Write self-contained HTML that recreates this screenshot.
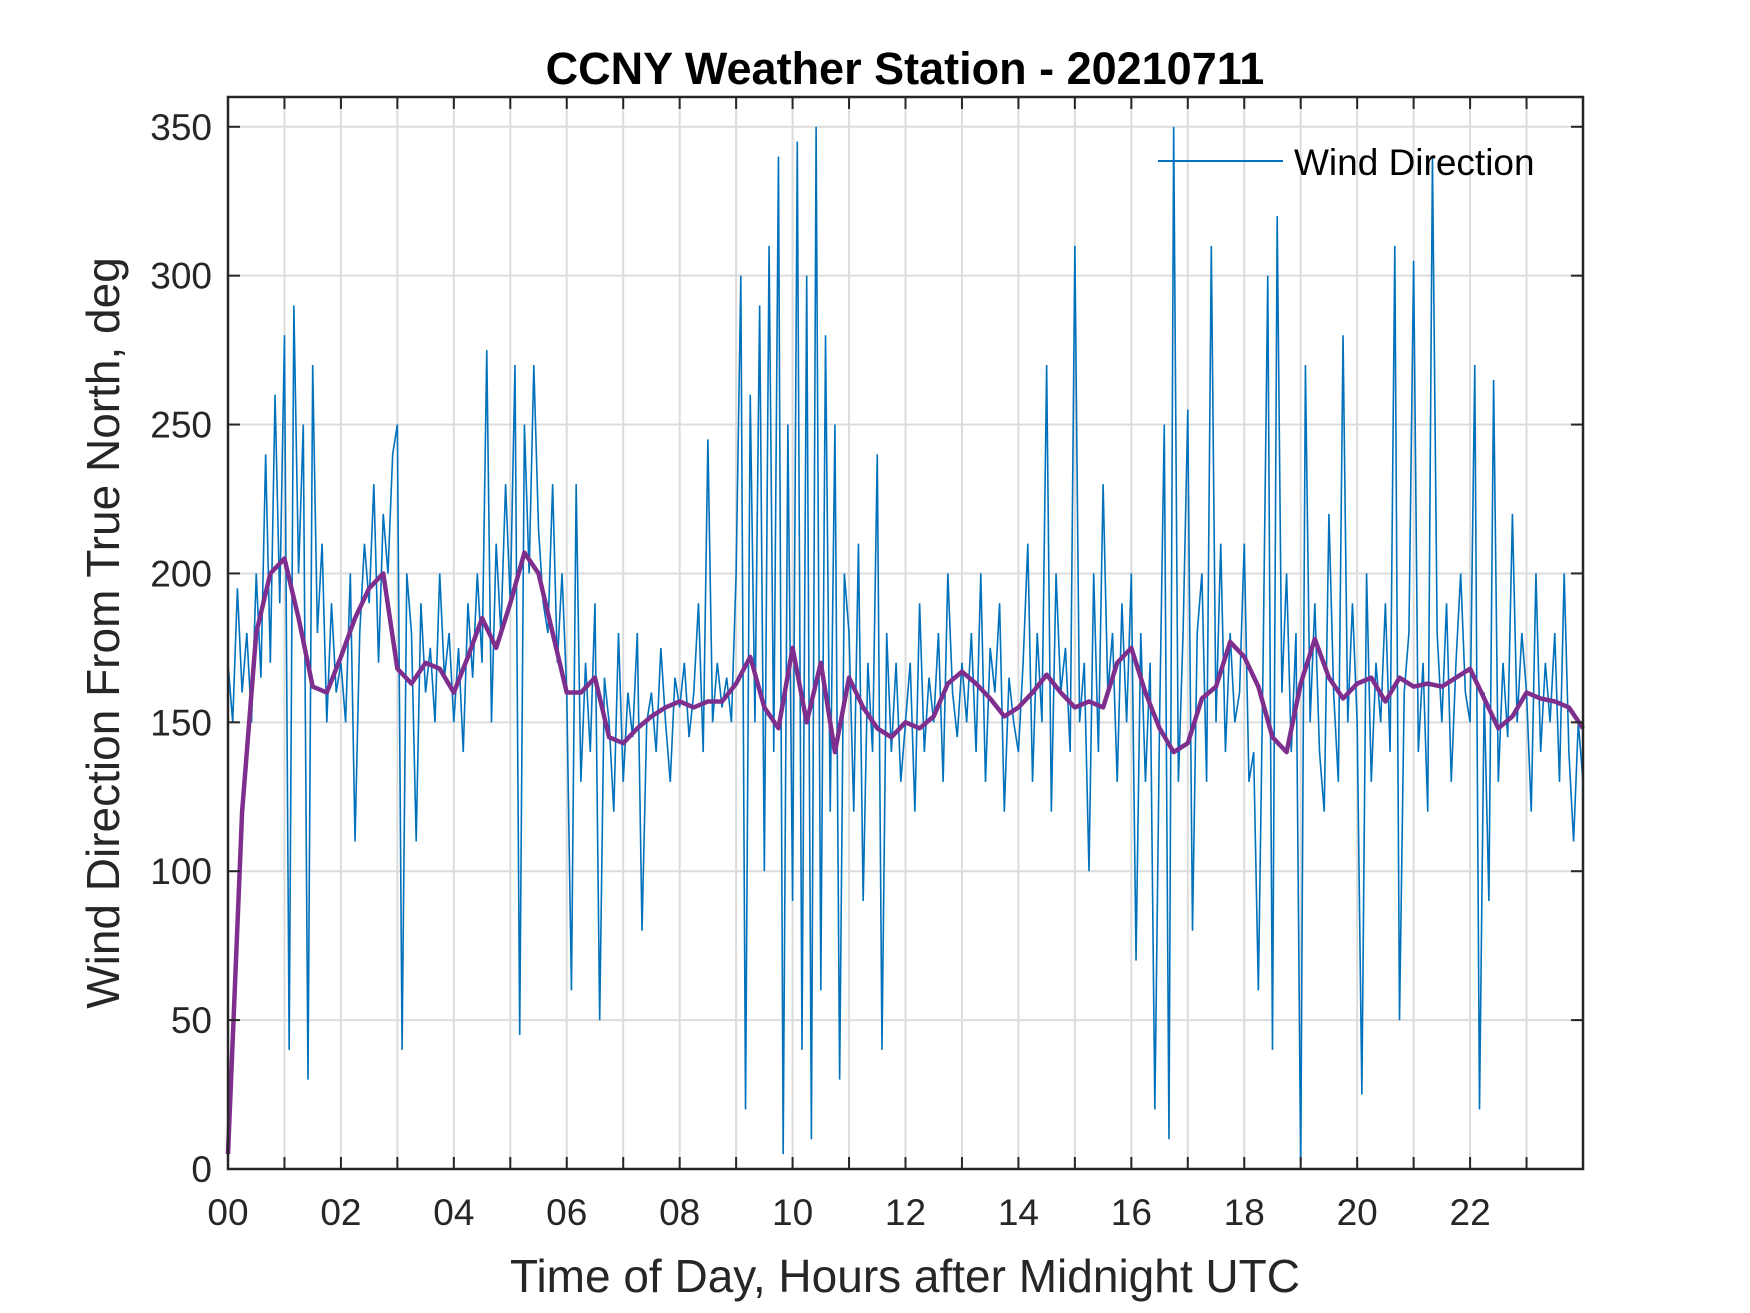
<!DOCTYPE html>
<html><head><meta charset="utf-8"><style>
body{margin:0;background:#fff;}
svg{display:block;font-family:"Liberation Sans",Arial,sans-serif;}
</style></head><body>
<svg id="chart" width="1750" height="1313" viewBox="0 0 1750 1313">
<rect width="1750" height="1313" fill="#fff"/>
<g id="grid"></g>
<g id="series"></g>
<g id="axes"></g>
<text x="905" y="84" text-anchor="middle" font-weight="bold" font-size="45">CCNY Weather Station - 20210711</text>
<text x="905" y="1292" text-anchor="middle" font-size="46" fill="#262626">Time of Day, Hours after Midnight UTC</text>
<text transform="translate(119,633) rotate(-90)" text-anchor="middle" font-size="46" fill="#262626">Wind Direction From True North, deg</text>
<g>
<line x1="1158" y1="161" x2="1283" y2="161" stroke="#0072BD" stroke-width="2"/>
<text x="1294" y="175" font-size="37">Wind Direction</text>
</g>
</svg>
<script>
const xTicks=[0,2,4,6,8,10,12,14,16,18,20,22];
const xTickLabels=["00","02","04","06","08","10","12","14","16","18","20","22"];
const yTicks=[0,50,100,150,200,250,300,350];
const blueValues=[
170,150,195,160,180,150,200,165,240,170,260,190,
280,40,290,200,250,30,270,180,210,150,190,160,
170,150,200,110,180,210,190,230,170,220,200,240,
250,40,200,180,110,190,160,175,150,200,165,180,
150,175,140,190,165,200,170,275,150,210,180,230,
190,270,45,250,200,270,215,190,180,230,170,200,
160,60,230,130,170,140,190,50,165,150,120,180,
130,160,145,180,80,150,160,140,175,150,130,165,
155,170,145,160,190,140,245,150,170,155,165,150,
200,300,20,260,150,290,100,310,140,340,5,250,
90,345,40,300,10,350,60,280,120,250,30,200,
180,120,210,90,170,140,240,40,180,140,170,130,
150,170,120,190,140,165,150,180,130,200,160,145,
170,150,180,140,200,130,175,160,190,120,165,150,
140,170,210,130,180,150,270,120,200,160,175,140,
310,150,170,100,200,140,230,160,180,130,190,150,
200,70,180,130,170,20,150,250,10,350,130,180,
255,80,180,200,130,310,150,210,140,180,150,160,
210,130,140,60,170,300,40,320,160,200,140,180,
0,270,150,190,140,120,220,160,130,280,150,190,
150,25,200,130,170,150,190,140,310,50,160,180,
305,140,170,120,340,180,150,190,130,170,200,160,
150,270,20,160,90,265,130,170,145,220,150,180,
160,120,200,140,170,150,180,130,200,140,110,150,130];
const purpleValues=[5,120,180,200,205,185,162,160,172,185,195,200,
168,163,170,168,160,172,185,175,190,207,200,180,
160,160,165,145,143,148,152,155,157,155,157,157,
163,172,155,148,175,150,170,140,165,155,148,145,
150,148,152,163,167,163,158,152,155,160,166,160,
155,157,155,170,175,160,148,140,143,158,162,177,
172,162,145,140,163,178,165,158,163,165,157,165,
162,163,162,165,168,158,148,152,160,158,157,155,148];
const NS="http://www.w3.org/2000/svg";
const L=228,R=1583,T=97,B=1169;
function xs(h){return L+(R-L)*h/24;}
function ys(v){return B-(B-T)*v/360;}
function mk(tag,attrs,parent){const e=document.createElementNS(NS,tag);for(const k in attrs)e.setAttribute(k,attrs[k]);parent.appendChild(e);return e;}
const grid=document.getElementById('grid'),axes=document.getElementById('axes'),series=document.getElementById('series');
for(let h=1;h<24;h++){const g=mk('line',{x1:xs(h),x2:xs(h),y1:T,y2:B,stroke:'#dcdcdc','stroke-width':2},grid);


for(const [y1,y2] of [[B,B-12],[T,T+12]]){const t=mk('line',{x1:xs(h),x2:xs(h),y1:y1,y2:y2,stroke:'#262626','stroke-width':2},axes);

}}
yTicks.forEach(v=>{if(v>0){const g=mk('line',{x1:L,x2:R,y1:ys(v),y2:ys(v),stroke:'#dcdcdc','stroke-width':2},grid);

}
for(const [x1,x2] of [[L,L+12],[R,R-12]]){const t=mk('line',{x1:x1,x2:x2,y1:ys(v),y2:ys(v),stroke:'#262626','stroke-width':2},axes);

}
const lb=mk('text',{x:L-16,y:ys(v)+13,'text-anchor':'end','font-size':37,fill:'#262626'},axes);


lb.textContent=v;});
xTicks.forEach((h,i)=>{const lb=mk('text',{x:xs(h),y:B+56,'text-anchor':'middle','font-size':37,fill:'#262626'},axes);


lb.textContent=xTickLabels[i];});
const box=mk('rect',{x:L,y:T,width:R-L,height:B-T,fill:'none',stroke:'#262626','stroke-width':2.5},axes);


const bn=blueValues.length-1;
const bl=mk('polyline',{points:blueValues.map((v,i)=>xs(24*i/bn)+','+ys(v)).join(' '),fill:'none',stroke:'#0072BD','stroke-width':1.6},series);


const pn=purpleValues.length-1;
const pl=mk('polyline',{points:purpleValues.map((v,i)=>xs(24*i/pn)+','+ys(v)).join(' '),fill:'none',stroke:'#7E2F8E','stroke-width':4.5,'stroke-linejoin':'round'},series);


</script>
</body></html>
